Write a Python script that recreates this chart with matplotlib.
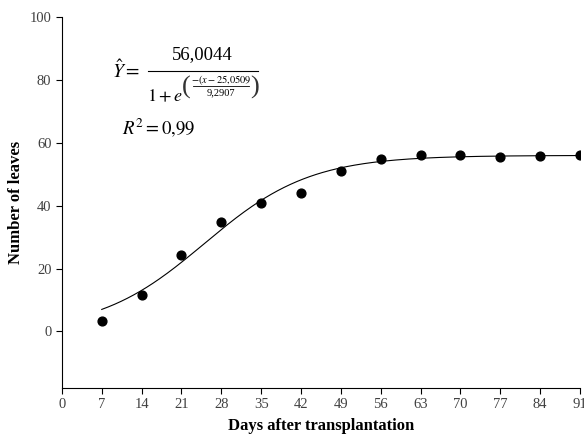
import numpy as np
import matplotlib
matplotlib.use('Agg')
import matplotlib.pyplot as plt
from matplotlib.lines import Line2D

plt.rcParams['font.family'] = ['Liberation Serif', 'DejaVu Serif']
plt.rcParams['mathtext.fontset'] = 'stix'

# observed values
days = [7, 14, 21, 28, 35, 42, 49, 56, 63, 70, 77, 84, 91]
leaves = [3.2, 11.7, 24.4, 34.9, 41.0, 44.1, 51.1, 54.9, 56.2, 56.2, 55.6, 55.9, 56.2]

# fitted logistic model (as printed on the chart)
a, b, c = 56.0044, 25.0509, 9.2907

xticks = [0, 7, 14, 21, 28, 35, 42, 49, 56, 63, 70, 77, 84, 91]
yticks = [0, 20, 40, 60, 80, 100]

W, H = 584, 438
fig = plt.figure(figsize=(W / 100, H / 100), dpi=100)
ax = fig.add_axes([0.106, 0.114, 0.887, 0.847])

xs = np.linspace(7, 91, 300)
ax.plot(xs, a / (1 + np.exp(-(xs - b) / c)), color='black', lw=0.8)
ax.scatter(days, leaves, s=40, color='black', zorder=3)

ax.set_xlim(0, 91)
ax.set_ylim(-18, 100)
ax.set_xticks(xticks)
ax.set_yticks(yticks)
ax.tick_params(labelsize=10.5, labelcolor='#404040', direction='out', length=4, width=0.8)
for s in ['top', 'right']:
    ax.spines[s].set_visible(False)

ax.set_xlabel('Days after transplantation', fontsize=12, fontweight='bold', labelpad=5)
ax.set_ylabel('Number of leaves', fontsize=12, fontweight='bold', labelpad=4)


# equation drawn piece by piece (pixel positions from top-left)
def px(x, y):
    return x / W, 1 - y / H


def put(x, y, s, size, ha='center', **kw):
    fig.text(*px(x, y), s, fontsize=size, ha=ha, va='center', **kw)


def hline(x0, x1, y, lw=0.8):
    (fx0, fy), (fx1, _) = px(x0, y), px(x1, y)
    fig.add_artist(Line2D([fx0, fx1], [fy, fy], color='black', lw=lw,
                          transform=fig.transFigure))


put(112, 71, r'$\hat{Y}=$', 14, ha='left')
put(202, 55, '56,0044', 13.5)
hline(148, 258, 71)
put(147, 97, r'$1+e$', 13, ha='left')
put(186, 87, '(', 19, color='#333333')
put(255, 87, ')', 19, color='#333333')
put(221, 80, r'$-(x-25{,}0509$', 7.5)
hline(193, 249, 86, lw=0.6)
put(221, 93, '9,2907', 7.5)
put(122, 128, r'$R^2=0{,}99$', 13.5, ha='left')

fig.savefig('out.png', dpi=100)
